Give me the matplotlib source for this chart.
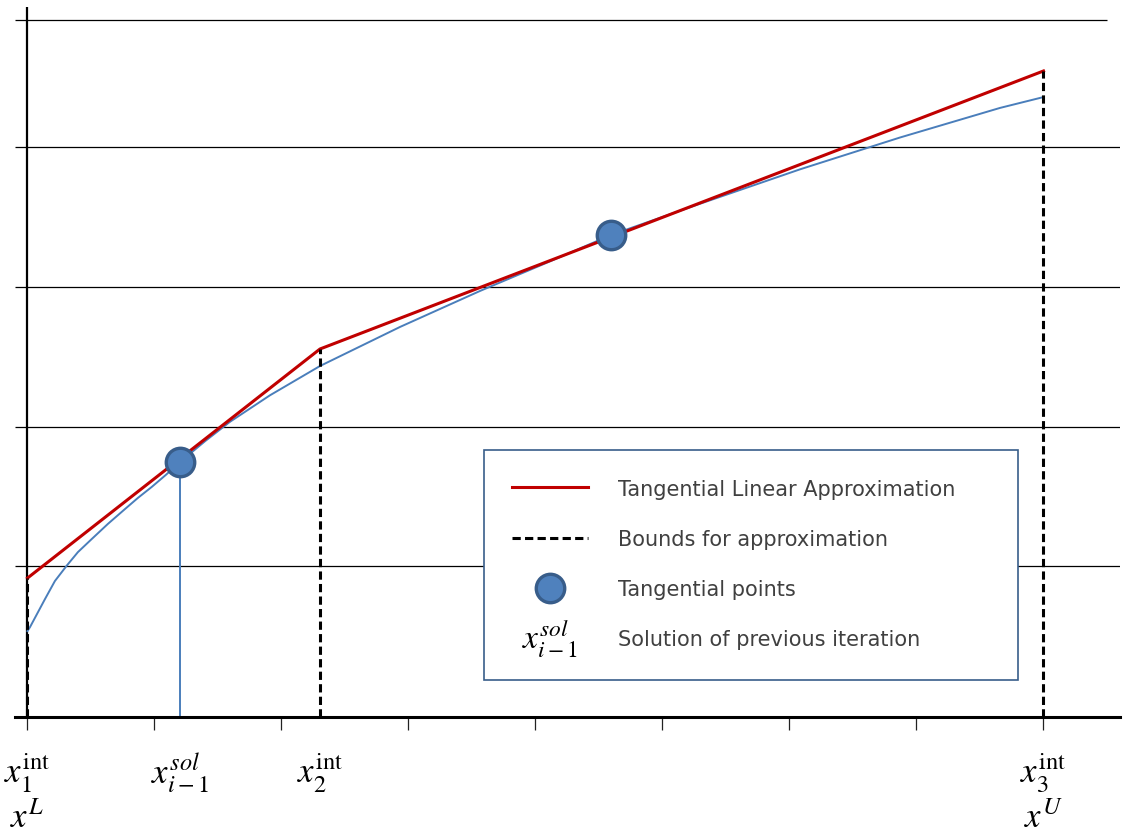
import matplotlib
matplotlib.use('Agg')
import matplotlib.pyplot as plt
import matplotlib.transforms as mtransforms
from matplotlib.legend_handler import HandlerBase
from matplotlib.lines import Line2D
from matplotlib.patches import Rectangle
from matplotlib.text import Text

plt.rcParams['mathtext.fontset'] = 'stix'

# Nonlinear function being approximated (sampled values)
curve_x = [0.0, 0.02, 0.06, 0.138, 0.216, 0.309, 0.397, 0.506, 0.634, 0.768,
           0.870, 0.978, 1.090, 1.201, 1.398, 1.594, 1.909, 2.303, 2.933, 3.563,
           4.114, 4.594, 5.295, 6.083, 6.870, 7.657, 8.0]
curve_y = [0.616, 0.645, 0.713, 0.846, 0.975, 1.085, 1.182, 1.276, 1.385, 1.491,
           1.571, 1.649, 1.736, 1.828, 1.977, 2.116, 2.306, 2.516, 2.796, 3.054,
           3.266, 3.455, 3.679, 3.926, 4.154, 4.366, 4.444]

# Tangential linear approximation, broken at the interval bounds x_1, x_2, x_3
approx_x = [0.0, 2.303, 8.0]
approx_y = [0.996, 2.638, 4.631]

# Tangential points; the first one is the previous iteration's solution
tangent_x = [1.201, 4.594]
tangent_y = [1.828, 3.455]
x_sol = tangent_x[0]

grid_y = [1.082, 2.082, 3.082, 4.086]
top_y = 4.996
x_ticks = list(range(9))

upper_labels = [(0.0, r'$x_1^{\mathrm{int}}$'), (x_sol, r'$x_{i-1}^{sol}$'),
                (2.303, r'$x_2^{\mathrm{int}}$'), (8.0, r'$x_3^{\mathrm{int}}$')]
lower_labels = [(0.0, r'$x^L$'), (8.0, r'$x^U$')]

legend_labels = ['Tangential Linear Approximation', 'Bounds for approximation',
                 'Tangential points', 'Solution of previous iteration']

RED = '#C00000'
BLUE = '#4A7EBB'
DASH = (0, (2.7, 1.4))


class HandlerMathSymbol(HandlerBase):
    """Draws a math text string in place of a legend handle."""
    def create_artists(self, legend, orig_handle, xdescent, ydescent, width, height, fontsize, trans):
        t = Text(width / 2 - xdescent, height / 2 - ydescent, orig_handle.get_text(),
                 ha='center', va='center', fontsize=24, transform=trans)
        return [t]


fig = plt.figure(figsize=(11.26, 8.37), dpi=100)
ax = fig.add_axes([15 / 1126, 119 / 837, 1105 / 1126, 710 / 837])
x0, x1 = -0.0984, 8.6024
ax.set_xlim(x0, x1)
ax.set_ylim(0, 5.0896)

for side in ['top', 'right', 'left']:
    ax.spines[side].set_visible(False)
ax.spines['bottom'].set_linewidth(2.2)
ax.spines['bottom'].set_zorder(6)
ax.set_xticks(x_ticks)
ax.set_xticklabels([])
ax.set_yticks([])
ax.tick_params(axis='x', direction='out', length=9.4, width=0.9, color='#222222')

# Horizontal gridlines reach left of the y axis, like outward ticks
ax.hlines(grid_y, x0, x1, color='black', lw=0.9, zorder=1)
ax.hlines(top_y, x0, 8.5, color='black', lw=0.9, zorder=1)
ax.axvline(0, color='black', lw=1.6, zorder=2)

ax.plot(curve_x, curve_y, color=BLUE, lw=1.4, zorder=3)
ax.vlines(x_sol, 0, tangent_y[0], color=BLUE, lw=1.4, zorder=3)
ax.plot(approx_x, approx_y, color=RED, lw=2.2, zorder=4)
for bx, by in zip(approx_x, approx_y):
    ax.plot([bx, bx], [0, by], color='black', lw=2.2, ls=DASH, zorder=5)
ax.plot(tangent_x, tangent_y, 'o', ms=20.5, mfc='#4F81BD', mec='#385D8A', mew=2.4, zorder=7)

trans = mtransforms.blended_transform_factory(ax.transData, fig.transFigure)
for lx, txt in upper_labels:
    ax.text(lx, (837 - 783) / 837, txt, transform=trans, ha='center', va='baseline', fontsize=25)
for lx, txt in lower_labels:
    ax.text(lx, 2 / 837, txt, transform=trans, ha='center', va='bottom', fontsize=25)

# Legend with a hand-drawn frame
fig.add_artist(Rectangle((484 / 1126, 1 - 681 / 837), 534 / 1126, 230 / 837,
                         transform=fig.transFigure, facecolor='white',
                         edgecolor='#385D8A', lw=1.2, zorder=3))
handles = [Line2D([], [], color=RED, lw=2.2),
           Line2D([], [], color='black', lw=2.2, ls=DASH),
           Line2D([], [], ls='none', marker='o', ms=20.5, mfc='#4F81BD', mec='#385D8A', mew=2.4),
           Text(text=r'$x_{i-1}^{sol}$')]
fig.legend(handles, legend_labels, handler_map={Text: HandlerMathSymbol()},
           loc='center left', bbox_to_anchor=(512 / 1126, 1 - 565 / 837),
           frameon=False, prop={'family': 'DejaVu Sans', 'size': 15},
           handlelength=3.65, handletextpad=1.44, labelspacing=1.45,
           borderpad=0, borderaxespad=0, labelcolor='#404040')

fig.savefig('out.png', dpi=100)
